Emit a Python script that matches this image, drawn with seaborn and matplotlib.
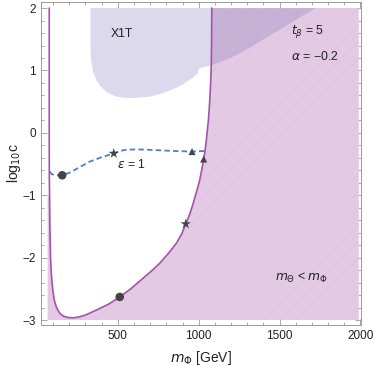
import numpy as np
import pandas as pd
import seaborn as sns
import matplotlib.pyplot as plt
from matplotlib.patches import Polygon
from matplotlib.ticker import MultipleLocator

# boundary of the m_Theta < m_Phi region, traced from top-left, down, and up the right branch
bound_m = [76, 76, 76.5, 78, 80, 84, 90, 97, 107, 121, 140, 165, 195, 224, 260, 300, 368, 440,
           512, 580, 656, 710, 759, 810, 862, 895, 920, 945, 965, 985, 1006, 1020, 1031, 1041,
           1050, 1060, 1068, 1074, 1078, 1080, 1081]
bound_logc = [2.0, 0.0, -0.7, -1.0, -1.5, -2.0, -2.3, -2.5, -2.68, -2.8, -2.89, -2.94, -2.96,
              -2.965, -2.95, -2.92, -2.84, -2.75, -2.63, -2.50, -2.33, -2.21, -2.09, -1.94,
              -1.77, -1.62, -1.46, -1.30, -1.14, -0.96, -0.76, -0.58, -0.42, -0.26, -0.05,
              0.2, 0.5, 0.8, 1.1, 1.5, 2.0]

# XENON1T excluded region (lower edge, closed along the top)
x1t_m = [331, 331, 335, 345, 368, 395, 430, 480, 533, 600, 698, 780, 862, 910, 960, 996, 1000,
         1040, 1078, 1160, 1253, 1397, 1562, 1726]
x1t_logc = [2.0, 1.33, 1.15, 1.0, 0.84, 0.74, 0.66, 0.59, 0.56, 0.56, 0.58, 0.64, 0.72, 0.79,
            0.88, 0.95, 1.03, 1.06, 1.08, 1.16, 1.27, 1.49, 1.75, 2.0]

# epsilon = 1 contour
eps_m = [80, 90, 111, 156, 200, 250, 327, 400, 475, 515, 553, 620, 677, 760, 841, 900, 959,
         1000, 1037]
eps_logc = [-0.62, -0.66, -0.68, -0.68, -0.64, -0.57, -0.46, -0.39, -0.33, -0.29, -0.27,
            -0.265, -0.27, -0.28, -0.29, -0.295, -0.30, -0.295, -0.29]

# benchmark points
dots_m = [156, 512]
dots_logc = [-0.68, -2.63]
stars_m = [475, 920]
stars_logc = [-0.33, -1.46]
tris_m = [959, 1031]
tris_logc = [-0.30, -0.42]

scan_m = (66, 1990)
scan_logc = (-3.0, 2.0)

sns.set_style("ticks")
plt.rcParams['font.family'] = ['Liberation Sans', 'DejaVu Sans']
plt.rcParams['mathtext.fontset'] = 'dejavusans'
plt.rcParams['hatch.linewidth'] = 0.35

pink = "#e3c9e3"
lav = "#dcd9ed"
overlap = "#c6b0d6"
purple = "#a652ad"
blue = "#507ec4"
frame = "#9a9a9a"
txt = "#222222"

fig = plt.figure(figsize=(3.74, 3.66), dpi=100)
ax = fig.add_axes([0.1096, 0.112, 0.8554, 0.883])

# pink region: right of / below the boundary curve
bd = pd.DataFrame({"m": bound_m, "logc": bound_logc})
low = bd[bd.logc <= -1.0].index[0]
pts = [(scan_m[1], scan_logc[0]), (scan_m[0], scan_logc[0]), (scan_m[0], bd.logc[low])]
pts += list(zip(bd.m[low:], bd.logc[low:]))
pts += [(scan_m[1], scan_logc[1])]
pink_patch = Polygon(pts, closed=True, facecolor=pink, edgecolor="none", zorder=1)
ax.add_patch(pink_patch)

x1t_pts = list(zip(x1t_m, x1t_logc))
ax.add_patch(Polygon(x1t_pts, closed=True, facecolor=lav, edgecolor="none", zorder=1.2))
ov = Polygon(x1t_pts, closed=True, facecolor=overlap, edgecolor="none", zorder=1.3)
ax.add_patch(ov)
ov.set_clip_path(pink_patch)

# faint mesh texture
ax.add_patch(Polygon(pts, closed=True, facecolor="none", edgecolor="#d9bfd9", hatch="//",
                     lw=0, zorder=1.4))
ax.add_patch(Polygon(x1t_pts, closed=True, facecolor="none", edgecolor="#cfcbe4", hatch="//",
                     lw=0, zorder=1.1))

sns.lineplot(data=bd, x="m", y="logc", sort=False, estimator=None, color=purple, lw=1.2,
             ax=ax, zorder=3)
eps = pd.DataFrame({"m": eps_m, "logc": eps_logc})
sns.lineplot(data=eps, x="m", y="logc", sort=False, estimator=None, color=blue, lw=1.3,
             ax=ax, zorder=3, linestyle=(0, (3, 1.8)))

sns.scatterplot(x=dots_m, y=dots_logc, marker="o", s=38, color="#454545", edgecolor="none",
                ax=ax, zorder=4)
sns.scatterplot(x=stars_m, y=stars_logc, marker="*", s=60, color="#454545", edgecolor="none",
                ax=ax, zorder=4)
sns.scatterplot(x=tris_m, y=tris_logc, marker="^", s=26, color="#454545", edgecolor="none",
                ax=ax, zorder=4)

fs = 8.8
ax.text(523, 1.59, "X1T", ha="center", va="center", fontsize=fs, color=txt)
ax.text(1675, 1.62, r"$t_\beta$ = 5", ha="center", va="center", fontsize=fs, color=txt)
ax.text(1716, 1.22, r"$\alpha$ = −0.2", ha="center", va="center", fontsize=fs, color=txt)
ax.text(585, -0.50, r"$\epsilon$ = 1", ha="center", va="center", fontsize=fs, color=txt)
ax.text(1634, -2.33, r"$m_\Theta$ < $m_\Phi$", ha="center", va="center", fontsize=fs,
        color=txt)

ax.set_xlim(25, 2003)
ax.set_ylim(-3.08, 2.1)
ax.xaxis.set_major_locator(MultipleLocator(500))
ax.xaxis.set_minor_locator(MultipleLocator(100))
ax.yaxis.set_major_locator(MultipleLocator(1))
ax.yaxis.set_minor_locator(MultipleLocator(0.2))
ax.tick_params(which="both", direction="in", top=True, right=True, color=frame, width=0.6,
               labelsize=8.5, labelcolor=txt)
ax.tick_params(which="major", length=4.5)
ax.tick_params(which="minor", length=2.5)
for s in ax.spines.values():
    s.set_color(frame)
    s.set_linewidth(0.7)
ax.set_xlabel(r"$m_\Phi$ [GeV]", fontsize=10, color=txt, labelpad=5)
ax.set_ylabel(r"log$_{10}$c", fontsize=10, color=txt, labelpad=0)

fig.savefig("out.png", dpi=100)
